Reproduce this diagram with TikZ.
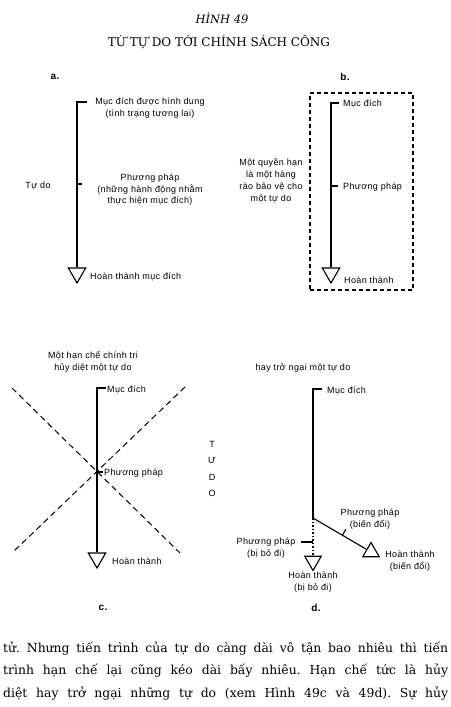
\documentclass[tikz,border=0pt]{standalone}
\usepackage{fontspec}
\setmainfont{DejaVu Serif}
\newfontfamily\lblfont[LetterSpace=4]{Liberation Sans}
\usepackage{tikz}
\usetikzlibrary{shapes.geometric, arrows}
\frenchspacing
\tikzstyle{lbl} = [font=\lblfont\fontsize{9}{11.5}\selectfont, inner sep=0pt, align=center]
\tikzstyle{tag} = [font=\lblfont\bfseries\fontsize{10}{12}\selectfont, inner sep=0pt]
\tikzstyle{goal} = [regular polygon, regular polygon sides=3, shape border rotate=180, draw=black, line width=1.1pt, minimum size=20pt, inner sep=0pt]
\tikzstyle{route} = [line width=1.1pt]
\tikzstyle{fence} = [line width=1.1pt, dash pattern=on 4pt off 3pt]
\tikzstyle{cut} = [line width=1pt, dash pattern=on 6pt off 4pt]
\tikzstyle{body} = [font=\fontsize{12.4}{15}\selectfont, inner sep=0pt, anchor=base west]

\begin{document}
\begin{tikzpicture}[x=1pt, y=-1pt]
\useasboundingbox (0,0) rectangle (450,707);

\node (fig) [font=\itshape\fontsize{11.5}{14}\selectfont] at (222,18) {HÌNH 49};
\node (title) [font=\fontsize{12}{14}\selectfont] at (219,42) {TỪ TỰ DO TỚI CHÍNH SÁCH CÔNG};

\node (tagA) [tag] at (55,77) {a.};
\coordinate (topA) at (77,102);
\coordinate (tickA) at (87,102);
\coordinate (midA) at (77,184);
\node (goalA) [lbl] at (150,108) {Mục đích được hình dung\\(tình trạng tương lai)};
\node (meanA) [lbl] at (150,190) {Phương pháp\\(những hành động nhằm\\thực hiện mục đích)};
\node (freeA) [lbl] at (38,186) {Tự do};
\node (triA) [goal] at (77,273) {};
\node (doneA) [lbl, anchor=west] at (90,277) {Hoàn thành mục đích};
\draw [route] (tickA) -- (topA) -- (triA);
\draw [route] (midA) -- ++(5,0);

\node (tagB) [tag] at (345,77) {b.};
\node (wallB) [draw, fence, minimum width=103pt, minimum height=197pt, inner sep=0pt] at (361.5,191.5) {};
\coordinate (topB) at (331,103);
\coordinate (tickB) at (339,103);
\coordinate (midB) at (331,186);
\node (goalB) [lbl, anchor=west] at (343,104) {Mục đích};
\node (meanB) [lbl, anchor=west] at (343,187) {Phương pháp};
\node (rightB) [lbl, font=\lblfont\fontsize{9}{12}\selectfont] at (271,181) {Một quyền hạn\\là một hàng\\rào bảo vệ cho\\một tự do};
\node (triB) [goal] at (331,273) {};
\node (doneB) [lbl, anchor=west] at (344,280) {Hoàn thành};
\draw [route] (tickB) -- (topB) -- (triB);
\draw [route] (midB) -- ++(7,0);

\node (headC) [lbl] at (93,362) {Một hạn chế chính tri\\hủy diệt một tự do};
\coordinate (cutC1) at (12,388);
\coordinate (cutC2) at (180,553);
\coordinate (cutC3) at (185,387);
\coordinate (cutC4) at (13,552);
\draw [cut] (cutC1) -- (cutC2);
\draw [cut] (cutC3) -- (cutC4);
\coordinate (topC) at (97,388);
\coordinate (tickC) at (106,388);
\coordinate (crossC) at (97,472);
\node (goalC) [lbl, anchor=west] at (107,390) {Mục đích};
\node (meanC) [lbl, anchor=west] at (104,473) {Phương pháp};
\node (triC) [goal] at (97,558) {};
\node (doneC) [lbl, anchor=west] at (112,561) {Hoàn thành};
\draw [route] (tickC) -- (topC) -- (triC);
\draw [route] (crossC) -- ++(6,0);
\node (freeC) [lbl] at (212,469) {T\\[5pt]Ư\\[5pt]D\\[5pt]O};
\node (tagC) [tag] at (103,608) {c.};

\node (headD) [lbl] at (303,368) {hay trở ngại một tự do};
\coordinate (topD) at (313,389);
\coordinate (tickD) at (322,389);
\coordinate (bendD) at (313,518);
\coordinate (dropD) at (313,542);
\node (goalD) [lbl, anchor=west] at (327,391) {Mục đích};
\node (triD) [goal, minimum size=19pt] at (313,561) {};
\node (triE) [goal, minimum size=19pt, shape border rotate=0] at (371,552) {};
\draw [route] (tickD) -- (topD) -- (bendD);
\draw [route] (bendD) -- coordinate[pos=0.55] (midD) (triE);
\draw [route] (midD) -- ++(3.5,-6);
\draw [route, dash pattern=on 1.5pt off 2pt] (bendD) -- (triD);
\draw [route] (dropD) -- ++(-12,0);
\node (meanD) [lbl] at (370,519) {Phương pháp\\(biến đổi)};
\node (lostD) [lbl] at (266,548) {Phương pháp\\(bị bỏ đi)};
\node (doneD) [lbl] at (313,582) {Hoàn thành\\(bị bỏ đi)};
\node (doneE) [lbl] at (410,561) {Hoàn thành\\(biến đổi)};
\node (tagD) [tag] at (316,608) {d.};

\node (txt1) [body] at (3,652) {\makebox[445pt][s]{tử. Nhưng tiến trình của tự do càng dài vô tận bao nhiêu thì tiến}};
\node (txt2) [body] at (3,674.5) {\makebox[445pt][s]{trình hạn chế lại cũng kéo dài bấy nhiêu. Hạn chế tức là hủy}};
\node (txt3) [body] at (3,697) {\makebox[445pt][s]{diệt hay trở ngại những tự do (xem Hình 49c và 49d). Sự hủy}};
\end{tikzpicture}
\end{document}
